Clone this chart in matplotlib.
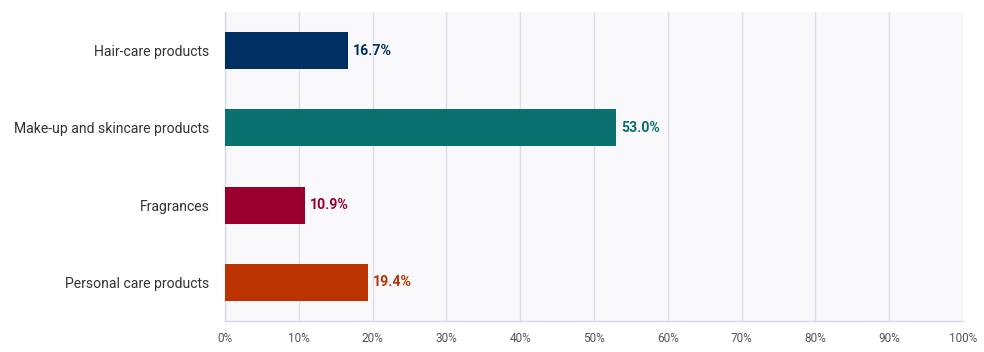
import matplotlib
matplotlib.use("Agg")
import matplotlib.pyplot as plt
from matplotlib.ticker import FuncFormatter

categories = ["Hair-care products", "Make-up and skincare products", "Fragrances", "Personal care products"]
values = [16.7, 53.0, 10.9, 19.4]
colors = ["#003063", "#0b7170", "#99002f", "#ba3300"]
xticks = list(range(0, 101, 10))

plt.rcParams["font.family"] = ["Roboto", "DejaVu Sans"]

fig = plt.figure(figsize=(9.84, 3.52), dpi=100)
ax = fig.add_axes([225 / 984, 31 / 352, 738 / 984, 309 / 352])
ax.set_facecolor("#f9f9fb")

y = list(range(len(categories)))
ax.barh(y, values, height=0.48, color=colors, zorder=3)
for yi, v, c in zip(y, values, colors):
    ax.text(v + 0.65, yi, f"{v:.1f}%", va="center", ha="left", color=c,
            fontsize=10.2, fontweight="bold", zorder=4)

ax.set_xlim(0, 100)
ax.set_ylim(len(categories) - 0.5, -0.5)
ax.set_xticks(xticks)
ax.xaxis.set_major_formatter(FuncFormatter(lambda v, _: f"{v:.0f}%"))
ax.set_yticks(y)
ax.set_yticklabels(categories)
ax.grid(axis="x", color="#dcdfeb", linewidth=1, zorder=0)
for s in ["top", "right"]:
    ax.spines[s].set_visible(False)
for s in ["left", "bottom"]:
    ax.spines[s].set_color("#d5d9e6")
    ax.spines[s].set_linewidth(1)
ax.tick_params(axis="x", length=0, pad=8, labelsize=8.5, labelcolor="#555555")
ax.tick_params(axis="y", length=0, pad=11, labelsize=10.1, labelcolor="#333333")

fig.savefig("out.png", dpi=100)
